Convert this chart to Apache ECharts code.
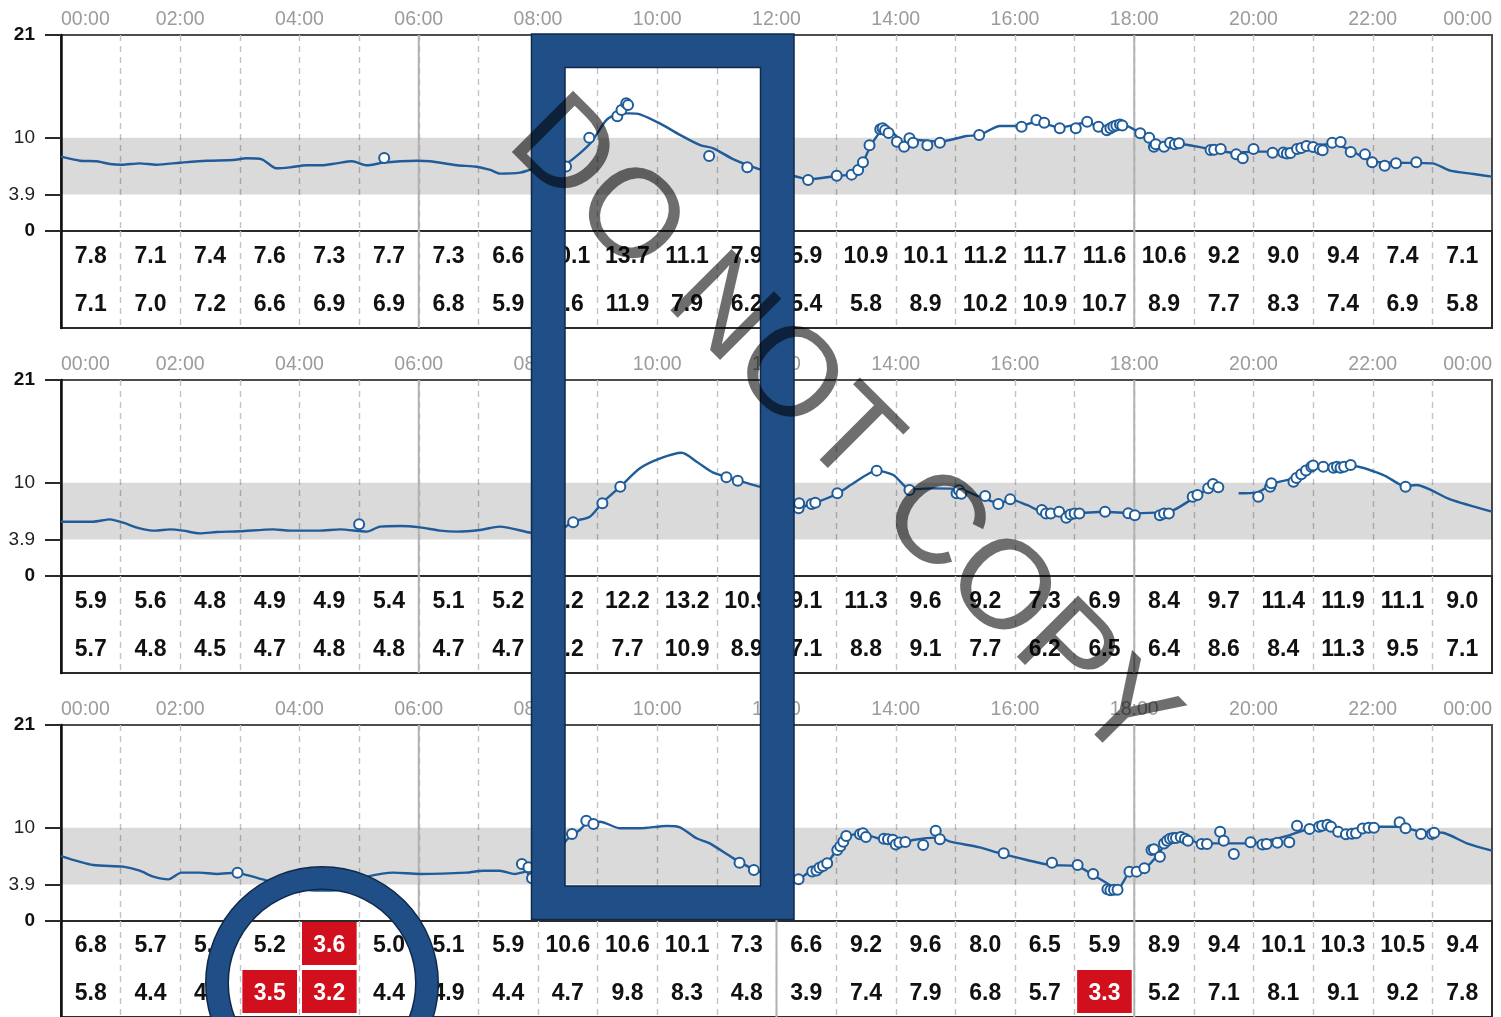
<!DOCTYPE html>
<html>
<head>
<meta charset="utf-8">
<title>Daily glucose overview</title>
<script src="https://cdn.jsdelivr.net/npm/echarts@6.0.0/dist/echarts.min.js"></script>
<style>
  html, body { margin: 0; padding: 0; background: #ffffff; }
  #chart { width: 1501px; height: 1017px; }
</style>
</head>
<body>
<div id="chart"></div>
<script>
// ---- scale / reference values ----
const yTickValues = [0, 3.9, 10, 21];
const targetLow = 3.9;
const targetHigh = 10;
const lowLimit = 3.9;          // hourly values under this get a red cell
const dayLines = [6, 12, 18];  // solid quarter-day separators (hours)

// ---- day 1 ----
const day1Line = [[0,7.96],[0.32,7.53],[0.6,7.47],[0.82,7.18],[1.02,7.1],[1.32,7.25],[1.6,7.1],[2.0,7.32],[2.44,7.53],[2.89,7.6],[3.11,7.79],[3.37,7.68],[3.61,6.72],[3.84,6.82],[4.12,7.04],[4.37,7.04],[4.62,7.25],[4.88,7.47],[5.13,7.04],[5.41,7.32],[5.69,7.47],[5.97,7.53],[6.19,7.47],[6.64,7.04],[6.97,6.89],[7.2,6.54],[7.36,6.15],[7.7,6.25],[7.9,6.6],[8.2,6.7],[8.48,7.25],[8.7,8.32],[8.9,9.57],[9.15,11.9],[9.38,12.6],[9.54,12.6],[9.71,12.5],[10.05,11.5],[10.38,10.3],[10.72,9.2],[10.94,8.86],[11.28,7.68],[11.72,6.6],[11.95,6.2],[12.1,5.9],[12.28,5.89],[12.53,5.54],[13.0,5.89],[13.26,6.1],[13.4,6.71],[13.57,9.0],[13.74,10.6],[13.85,11.0],[14.02,10.1],[14.13,9.4],[14.35,9.75],[14.74,9.57],[15.19,10.18],[15.41,10.3],[15.75,11.25],[16.08,11.25],[16.36,11.7],[16.75,11.1],[17.2,11.6],[17.53,11.0],[17.82,11.36],[18.1,10.47],[18.32,9.46],[18.71,9.4],[19.22,8.86],[19.66,8.39],[20.0,8.5],[20.5,8.5],[20.89,9.03],[21.34,9.32],[21.62,8.68],[22.0,7.43],[22.39,7.32],[23.0,7.25],[23.3,6.46],[23.69,6.11],[24,5.82]];
const day1Points = [[5.42,7.82],[8.47,6.9],[8.86,10.0],[9.33,12.3],[9.4,12.96],[9.48,13.7],[9.51,13.5],[10.87,8.04],[11.51,6.82],[12.53,5.46],[13.01,5.93],[13.26,6.04],[13.37,6.54],[13.45,7.36],[13.56,9.2],[13.74,10.9],[13.78,11.0],[13.82,10.8],[13.88,10.5],[14.02,9.57],[14.14,9.03],[14.23,9.93],[14.29,9.46],[14.53,9.2],[14.74,9.46],[15.4,10.29],[16.11,11.18],[16.36,11.9],[16.49,11.6],[16.75,11.0],[17.02,11.0],[17.21,11.7],[17.4,11.18],[17.54,10.8],[17.6,11.0],[17.65,11.2],[17.7,11.3],[17.76,11.4],[17.8,11.3],[18.1,10.47],[18.25,10.0],[18.33,9.03],[18.36,9.3],[18.5,9.03],[18.6,9.46],[18.68,9.3],[18.75,9.4],[19.28,8.68],[19.34,8.7],[19.45,8.79],[19.71,8.21],[19.82,7.79],[20.0,8.79],[20.32,8.39],[20.5,8.4],[20.56,8.3],[20.62,8.35],[20.73,8.79],[20.8,8.9],[20.89,9.1],[21.0,9.0],[21.11,8.75],[21.16,8.65],[21.32,9.46],[21.46,9.54],[21.63,8.46],[21.87,8.21],[21.99,7.36],[22.2,7.0],[22.39,7.25],[22.73,7.36]];
const day1Max = [7.8,7.1,7.4,7.6,7.3,7.7,7.3,6.6,10.1,13.7,11.1,7.9,5.9,10.9,10.1,11.2,11.7,11.6,10.6,9.2,9.0,9.4,7.4,7.1];
const day1Min = [7.1,7.0,7.2,6.6,6.9,6.9,6.8,5.9,6.6,11.9,7.9,6.2,5.4,5.8,8.9,10.2,10.9,10.7,8.9,7.7,8.3,7.4,6.9,5.8];

// ---- day 2 ----
const day2Line = [[0,5.82],[0.54,5.82],[0.82,6.07],[1.04,5.71],[1.32,5.11],[1.58,4.86],[1.83,5.0],[2.05,4.86],[2.33,4.57],[2.61,4.71],[3.0,4.79],[3.56,5.0],[3.84,4.86],[4.34,4.86],[4.68,5.0],[5.13,4.75],[5.35,5.29],[5.69,5.36],[6.02,5.21],[6.36,4.86],[6.64,4.75],[7.03,4.93],[7.36,5.29],[7.87,4.64],[8.2,4.3],[8.59,5.82],[8.87,6.36],[9.07,7.79],[9.38,9.57],[9.71,11.54],[10.05,12.6],[10.41,13.2],[10.66,12.25],[10.94,11.07],[11.16,10.64],[11.36,10.21],[11.72,9.57],[12.0,9.0],[12.31,7.25],[12.62,7.79],[13.01,8.79],[13.29,9.93],[13.68,11.29],[13.96,10.82],[14.24,9.29],[14.63,9.39],[15.08,9.29],[15.41,8.5],[15.75,7.79],[15.92,8.21],[16.2,7.61],[16.47,6.89],[16.75,6.89],[17.03,6.71],[17.48,6.89],[17.98,6.71],[18.37,6.79],[18.6,6.89],[18.99,8.32],[19.21,9.21],[19.44,9.57],[19.6,'-'],[19.75,8.86],[20.05,8.93],[20.33,9.93],[20.67,10.46],[21.0,11.54],[21.34,11.71],[21.67,11.79],[22.18,10.82],[22.54,9.64],[22.73,9.75],[23.3,8.21],[24,6.89]];
const day2Points = [[5.0,5.54],[8.59,5.75],[9.08,7.79],[9.38,9.57],[11.16,10.57],[11.35,10.21],[12.37,7.25],[12.38,7.79],[12.59,7.71],[12.65,7.85],[13.02,8.86],[13.68,11.29],[14.23,9.21],[15.02,8.86],[15.06,9.2],[15.1,8.8],[15.5,8.57],[15.72,7.71],[15.92,8.21],[16.45,7.07],[16.52,6.7],[16.6,6.7],[16.74,6.89],[16.86,6.25],[16.93,6.6],[17.0,6.7],[17.08,6.7],[17.51,6.89],[17.9,6.71],[18.01,6.5],[18.43,6.5],[18.5,6.7],[18.58,6.7],[18.98,8.5],[19.06,8.68],[19.24,9.39],[19.32,9.86],[19.41,9.5],[20.08,8.5],[20.28,9.57],[20.3,9.93],[20.67,10.1],[20.72,10.5],[20.8,10.9],[20.88,11.3],[20.97,11.7],[21.0,11.85],[21.17,11.71],[21.34,11.6],[21.4,11.7],[21.46,11.6],[21.52,11.7],[21.63,11.9],[22.55,9.57]];
const day2Max = [5.9,5.6,4.8,4.9,4.9,5.4,5.1,5.2,7.2,12.2,13.2,10.9,9.1,11.3,9.6,9.2,7.3,6.9,8.4,9.7,11.4,11.9,11.1,9.0];
const day2Min = [5.7,4.8,4.5,4.7,4.8,4.8,4.7,4.7,4.2,7.7,10.9,8.9,7.1,8.8,9.1,7.7,6.2,6.5,6.4,8.6,8.4,11.3,9.5,7.1];

// ---- day 3 ----
const day3Line = [[0,6.96],[0.54,6.0],[1.04,5.82],[1.32,5.39],[1.55,4.75],[1.8,4.46],[2.02,5.18],[2.33,5.18],[2.61,5.04],[2.96,5.18],[3.11,4.93],[3.45,4.32],[3.75,3.7],[3.95,3.5],[4.2,3.3],[4.5,3.25],[4.8,3.4],[4.97,3.55],[5.05,4.45],[5.13,4.75],[5.57,5.18],[6.02,5.04],[6.8,5.18],[7.08,5.39],[7.36,5.39],[7.61,5.04],[7.81,5.29],[7.87,4.39],[8.05,4.7],[8.25,6.5],[8.48,8.68],[8.7,9.75],[8.82,10.46],[9.04,10.64],[9.38,9.93],[9.71,9.93],[10.16,10.18],[10.38,10.04],[10.66,8.86],[10.88,8.32],[11.28,6.71],[11.61,5.54],[11.85,4.9],[12.1,3.95],[12.31,4.21],[12.56,5.29],[12.84,6.18],[13.01,7.61],[13.2,9.04],[13.4,9.39],[13.74,8.75],[14.02,8.04],[14.29,8.68],[14.74,8.96],[14.91,8.5],[15.41,7.89],[15.75,7.25],[16.2,6.54],[16.59,6.0],[17.03,5.89],[17.31,4.93],[17.59,3.86],[17.71,3.35],[17.93,5.29],[18.21,5.82],[18.37,6.89],[18.54,8.32],[18.82,9.04],[19.1,8.32],[19.44,8.32],[19.94,8.32],[20.33,8.75],[20.61,9.21],[21.0,9.93],[21.34,9.93],[21.62,9.57],[22.0,10.1],[22.45,10.1],[22.79,9.57],[23.18,9.46],[23.58,8.32],[24,7.54]];
const day3Points = [[2.96,5.18],[7.73,6.11],[7.84,5.75],[7.9,4.57],[8.57,9.32],[8.81,10.75],[8.93,10.39],[11.38,6.25],[11.62,5.46],[12.37,4.46],[12.6,5.3],[12.67,5.4],[12.72,5.7],[12.78,5.9],[12.85,6.2],[13.02,7.6],[13.07,8.0],[13.12,8.5],[13.17,9.1],[13.4,9.3],[13.45,9.4],[13.5,9.0],[13.8,8.8],[13.87,8.75],[13.95,8.7],[14.0,8.2],[14.06,8.4],[14.16,8.46],[14.46,8.14],[14.67,9.68],[14.74,8.75],[15.81,7.25],[16.62,6.25],[17.05,6.0],[17.31,5.04],[17.55,3.4],[17.6,3.3],[17.66,3.35],[17.72,3.35],[17.92,5.29],[18.04,5.29],[18.17,5.64],[18.29,7.61],[18.33,7.7],[18.43,6.89],[18.5,8.3],[18.55,8.6],[18.6,8.8],[18.65,8.9],[18.7,8.9],[18.78,9.0],[18.85,8.8],[18.9,8.6],[19.13,8.25],[19.22,8.25],[19.44,9.57],[19.5,8.6],[19.67,7.18],[19.95,8.43],[20.15,8.2],[20.22,8.25],[20.4,8.39],[20.6,8.43],[20.73,10.21],[20.94,9.86],[21.1,10.1],[21.15,10.2],[21.24,10.3],[21.3,10.1],[21.42,9.57],[21.55,9.29],[21.65,9.35],[21.72,9.4],[21.83,9.9],[21.93,10.0],[22.02,10.0],[22.45,10.57],[22.55,9.93],[22.81,9.32],[22.99,9.32],[23.03,9.46]];
const day3Max = [6.8,5.7,5.3,5.2,3.6,5.0,5.1,5.9,10.6,10.6,10.1,7.3,6.6,9.2,9.6,8.0,6.5,5.9,8.9,9.4,10.1,10.3,10.5,9.4];
const day3Min = [5.8,4.4,4.8,3.5,3.2,4.4,4.9,4.4,4.7,9.8,8.3,4.8,3.9,7.4,7.9,6.8,5.7,3.3,5.2,7.1,8.1,9.1,9.2,7.8];

const days = [
  { line: day1Line, points: day1Points, max: day1Max, min: day1Min },
  { line: day2Line, points: day2Points, max: day2Max, min: day2Min },
  { line: day3Line, points: day3Points, max: day3Max, min: day3Min }
];

// ---- layout & style ----
const FONT = '"Liberation Sans", Arial, Helvetica, sans-serif';
const BLUE = '#1f5c99';
const PANEL_STEP = 345;
const PLOT_LEFT = 61, PLOT_RIGHT = 9, PLOT_TOP = 35, PLOT_H = 196, TABLE_H = 97;

const dashedSplit = {
  show: true,
  showMinLine: false,
  showMaxLine: false,
  lineStyle: { color: '#c3c3c3', width: 1.4, type: [6, 5] }
};

function hourLabel(v) {
  if (v % 2 !== 0) return '';
  const h = v % 24;
  return (h < 10 ? '0' : '') + h + ':00';
}

function renderBand(params, api) {
  const cs = params.coordSys;
  const top = api.coord([0, api.value(1)])[1];
  const bottom = api.coord([0, api.value(0)])[1];
  return {
    type: 'rect',
    shape: { x: cs.x, y: top, width: cs.width, height: bottom - top },
    style: { fill: 'rgba(0,0,0,0.145)' }
  };
}

function renderDayLine(params, api) {
  const cs = params.coordSys;
  const x = api.coord([api.value(0), 0])[0];
  return {
    type: 'line',
    shape: { x1: x, y1: cs.y, x2: x, y2: cs.y + cs.height },
    style: { stroke: '#b2b2b2', lineWidth: 2 }
  };
}

function renderCell(params, api) {
  const h = api.value(0), r = api.value(1), v = api.value(2);
  const tl = api.coord([h, 2 - r]);
  const br = api.coord([h + 1, 1 - r]);
  const cx = (tl[0] + br[0]) / 2;
  const cy = (tl[1] + br[1]) / 2;
  const low = v < lowLimit;
  const children = [];
  if (low) {
    children.push({
      type: 'rect',
      shape: { x: tl[0] + 2.5, y: tl[1] + 1, width: br[0] - tl[0] - 5, height: br[1] - tl[1] - 5 },
      style: { fill: '#d10f1d' }
    });
  }
  children.push({
    type: 'text',
    x: cx, y: cy + 1,
    style: {
      text: v.toFixed(1),
      fill: low ? '#ffffff' : '#111111',
      font: 'bold 23px ' + FONT,
      align: 'center',
      verticalAlign: 'middle'
    }
  });
  return { type: 'group', children: children };
}

const grid = [], xAxis = [], yAxis = [], series = [];

days.forEach(function (day, i) {
  const off = PANEL_STEP * i;
  const gPlot = grid.length;
  grid.push({
    left: PLOT_LEFT, right: PLOT_RIGHT, top: PLOT_TOP + off, height: PLOT_H,
    show: true, borderColor: '#4d4d4d', borderWidth: 2, backgroundColor: 'transparent'
  });
  const gTable = grid.length;
  grid.push({
    left: PLOT_LEFT, right: PLOT_RIGHT, top: PLOT_TOP + PLOT_H + off, height: TABLE_H,
    show: true, borderColor: '#2b2b2b', borderWidth: 2, backgroundColor: 'transparent'
  });

  xAxis.push({
    type: 'value', gridIndex: gPlot, min: 0, max: 24, interval: 1, position: 'top',
    axisLine: { show: false }, axisTick: { show: false },
    axisLabel: {
      formatter: hourLabel, color: '#9b9b9b', fontSize: 19.5, fontFamily: FONT, margin: 5,
      alignMinLabel: 'left', alignMaxLabel: 'right'
    },
    splitLine: dashedSplit
  });
  xAxis.push({
    type: 'value', gridIndex: gTable, min: 0, max: 24, interval: 1,
    axisLine: { show: false }, axisTick: { show: false }, axisLabel: { show: false },
    splitLine: dashedSplit
  });

  yAxis.push({
    type: 'value', gridIndex: gPlot, min: 0, max: 21,
    axisLine: { show: true, lineStyle: { color: '#111', width: 2.5 } },
    axisTick: { show: true, length: 16, customValues: yTickValues, lineStyle: { color: '#2a2a2a', width: 2 } },
    axisLabel: {
      customValues: yTickValues, margin: 26, fontFamily: FONT, fontSize: 19,
      formatter: function (v) {
        return (v === 0 || v === 21) ? '{b|' + v + '}' : '{n|' + v + '}';
      },
      rich: {
        b: { fontSize: 19, fontWeight: 'bold', color: '#111', fontFamily: FONT },
        n: { fontSize: 19, color: '#222', fontFamily: FONT }
      }
    },
    splitLine: { show: false }
  });
  yAxis.push({
    type: 'value', gridIndex: gTable, min: 0, max: 2,
    axisLine: { show: true, lineStyle: { color: '#111', width: 2.5 } },
    axisTick: { show: false }, axisLabel: { show: false }, splitLine: { show: false }
  });

  // target band
  series.push({
    type: 'custom', xAxisIndex: gPlot, yAxisIndex: gPlot, z: 1, silent: true,
    renderItem: renderBand, data: [[targetLow, targetHigh]],
    encode: { x: -1, y: [0, 1] }
  });
  // quarter-day separators in plot and table
  series.push({
    type: 'custom', xAxisIndex: gPlot, yAxisIndex: gPlot, z: 1, silent: true,
    renderItem: renderDayLine, data: dayLines.map(function (h) { return [h, 0]; })
  });
  series.push({
    type: 'custom', xAxisIndex: gTable, yAxisIndex: gTable, z: 1, silent: true,
    renderItem: renderDayLine, data: dayLines.map(function (h) { return [h, 0]; })
  });
  // sensor trace
  series.push({
    type: 'line', xAxisIndex: gPlot, yAxisIndex: gPlot, z: 3,
    data: day.line, showSymbol: false, connectNulls: false, smooth: 0.25,
    lineStyle: { color: BLUE, width: 2.4 }
  });
  // scans
  series.push({
    type: 'scatter', xAxisIndex: gPlot, yAxisIndex: gPlot, z: 4,
    data: day.points, symbol: 'circle', symbolSize: 10,
    itemStyle: { color: '#ffffff', borderColor: BLUE, borderWidth: 2, opacity: 1 }
  });
  // hourly max / min table
  const cells = [];
  day.max.forEach(function (v, h) { cells.push([h, 0, v]); });
  day.min.forEach(function (v, h) { cells.push([h, 1, v]); });
  series.push({
    type: 'custom', xAxisIndex: gTable, yAxisIndex: gTable, z: 3, silent: true,
    renderItem: renderCell, data: cells,
    encode: { x: 0, y: 1 }
  });
});

const chart = echarts.init(document.getElementById('chart'), null, { renderer: 'canvas' });
chart.setOption({
  animation: false,
  backgroundColor: '#ffffff',
  textStyle: { fontFamily: FONT },
  grid: grid,
  xAxis: xAxis,
  yAxis: yAxis,
  series: series,
  graphic: [
    // highlight frame around the late-morning hours
    { type: 'rect', z: 100, silent: true,
      shape: { x: 548.25, y: 50.75, width: 229, height: 852 },
      style: { fill: null, stroke: '#10294a', lineWidth: 35 } },
    { type: 'rect', z: 101, silent: true,
      shape: { x: 548.25, y: 50.75, width: 229, height: 852 },
      style: { fill: null, stroke: '#1f4f86', lineWidth: 32 } },
    // ring around the night-time lows
    { type: 'circle', z: 100, silent: true,
      shape: { cx: 322, cy: 983, r: 105 },
      style: { fill: null, stroke: '#10294a', lineWidth: 24 } },
    { type: 'circle', z: 101, silent: true,
      shape: { cx: 322, cy: 983, r: 105 },
      style: { fill: null, stroke: '#1f4f86', lineWidth: 21 } },
    // watermark
    { type: 'text', z: 110, silent: true,
      x: 841, y: 432, rotation: -45 * Math.PI / 180,
      style: {
        text: 'DO NOT COPY', fontSize: 126, fontFamily: FONT,
        fill: 'rgba(0,0,0,0.57)', align: 'center', verticalAlign: 'middle'
      } }
  ]
});
</script>
</body>
</html>
